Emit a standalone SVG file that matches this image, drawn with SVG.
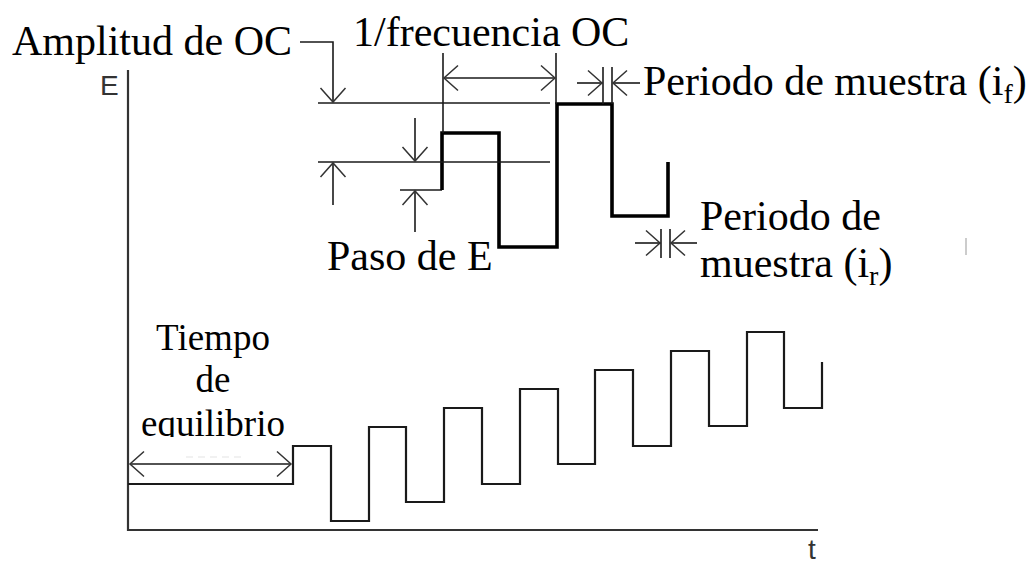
<svg xmlns="http://www.w3.org/2000/svg" width="1032" height="566" viewBox="0 0 1032 566">
<style>
.lbl{font-family:"Liberation Serif","Times New Roman",serif;font-size:42px;fill:#000}
.lbl2{font-family:"Liberation Serif","Times New Roman",serif;font-size:37px;fill:#000}
.ax{font-family:"Liberation Sans",Arial,sans-serif;font-size:28px;fill:#333}
.thin{fill:none;stroke:#1a1a1a;stroke-width:1.6}
.axis{fill:none;stroke:#333;stroke-width:2.2}
.wave{fill:none;stroke:#1a1a1a;stroke-width:2.2}
.thick{fill:none;stroke:#000;stroke-width:3.6}
.arr{marker-end:url(#ah)}
.arr2{marker-start:url(#ah);marker-end:url(#ah)}
</style>
<defs>
<marker id="ah" markerUnits="userSpaceOnUse" markerWidth="32" markerHeight="32" viewBox="-16 -16 32 32" refX="0" refY="0" orient="auto-start-reverse">
<path d="M-14,-12.5 L0,0 L-14,12.5" fill="none" stroke="#333" stroke-width="1.5"/>
</marker>
<clipPath id="eqclip"><rect x="100" y="395" width="220" height="42"/></clipPath>
</defs>
<rect width="1032" height="566" fill="#fff"/>

<g id="axes">
<path class="axis" d="M128,70 V530 H818"/>
<text class="ax" x="100" y="95">E</text>
<text class="ax" x="808" y="559">t</text>
</g>

<g id="waveform-bottom">
<path class="wave" d="M128,484 H293 V446 H331 V521 H369 V427 H406 V502 H444 V408 H482 V484 H520 V389 H558 V464 H595 V370 H633 V446 H671 V351 H709 V426 H747 V332 H784 V408 H822 V362"/>
</g>

<g id="waveform-top">
<path class="thin" d="M400,190 H442"/>
<path class="thick" d="M442,190 V133 H499 V247 H557 V104 H612 V216 H668 V162"/>
</g>

<g id="connectors">
<path class="thin" d="M318,103 H550"/>
<path class="thin" d="M318,162 H550"/>
<path class="thin" d="M443,53 V133"/>
<path class="thin" d="M556,53 V104"/>
<path class="thin arr" d="M300,42 H333 V102"/>
<path class="thin arr" d="M333,205 V163"/>
<path class="thin arr" d="M415,118 V161"/>
<path class="thin arr" d="M415,232 V191"/>
<path class="thin arr2" d="M444,78 H555"/>
<path class="thin arr" d="M577,83 H602"/>
<path class="thin" d="M603,67 V104"/>
<path class="thin" d="M612,67 V104"/>
<path class="thin arr" d="M640,83 H613"/>
<path class="thin arr" d="M635,243 H660"/>
<path class="thin" d="M661,229 V258"/>
<path class="thin" d="M670,229 V258"/>
<path class="thin arr" d="M697,243 H671"/>
<path class="thin arr2" d="M130,464 H291"/>
<path fill="none" stroke="#e4e4e4" stroke-width="1.2" stroke-dasharray="7,5" d="M186,457 H243"/>
<path fill="none" stroke="#bbb" stroke-width="1.5" d="M966,238 V255"/>
</g>

<g id="label-amplitud"><text class="lbl" x="12" y="55">Amplitud de OC</text></g>
<g id="label-frecuencia"><text class="lbl" x="353" y="46">1/frecuencia OC</text></g>
<g id="label-periodo-f"><text class="lbl" x="643" y="95">Periodo de muestra (i<tspan font-size="28" dy="8">f</tspan><tspan dy="-8">)</tspan></text></g>
<g id="label-paso"><text class="lbl" x="327" y="270">Paso de E</text></g>
<g id="label-periodo-r">
<text class="lbl" x="700" y="230">Periodo de</text>
<text class="lbl" x="700" y="277">muestra (i<tspan font-size="28" dy="8">r</tspan><tspan dy="-8">)</tspan></text>
</g>
<g id="label-tiempo">
<text class="lbl2" x="213" y="350" text-anchor="middle">Tiempo</text>
<text class="lbl2" x="213" y="392" text-anchor="middle">de</text>
<text class="lbl2" x="213" y="436" text-anchor="middle" clip-path="url(#eqclip)">equilibrio</text>
</g>
</svg>
